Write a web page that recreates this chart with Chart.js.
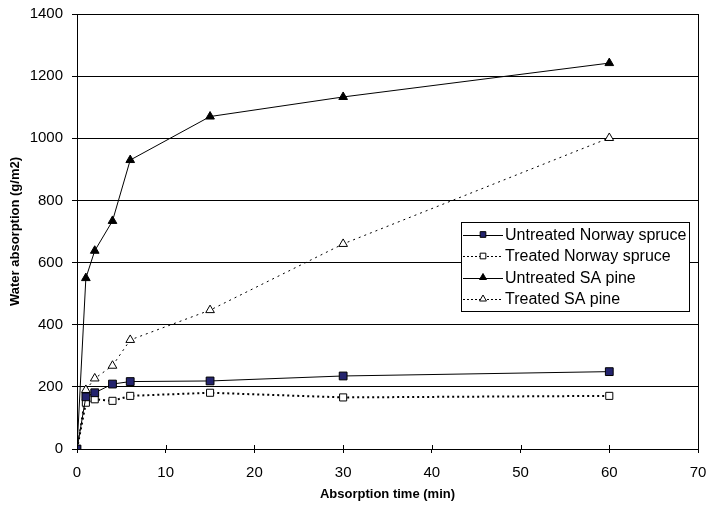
<!DOCTYPE html>
<html>
<head>
<meta charset="utf-8">
<script src="https://cdn.jsdelivr.net/npm/chart.js@4"></script>
<style>
  html, body { margin: 0; padding: 0; background: #fff; }
  #wrap { width: 708px; height: 508px; position: relative; }
</style>
</head>
<body>
<div id="wrap"><canvas id="chart"></canvas></div>
<script>
// absorption times (min)
const times = [0, 1, 2, 4, 6, 15, 30, 60];

// water absorption (g/m2)
const untreatedSpruce = [0, 168, 181, 209, 217, 219, 235, 249];
const treatedSpruce = [0, 149, 160, 155, 171, 181, 166, 171];
const untreatedPine = [0, 550, 638, 734, 930, 1070, 1133, 1242];
const treatedPine = [0, 190, 227, 268, 351, 447, 660, 1001];

const seriesNames = ['Untreated Norway spruce', 'Treated Norway spruce', 'Untreated SA pine', 'Treated SA pine'];

const FONT = '"Liberation Sans", Arial, sans-serif';

function pts(vals) {
    return times.map((t, i) => ({x: t, y: vals[i]}));
}

// marker drawing used by the boxed legend
function drawMarker(ctx, style, x, y, r, fill) {
    ctx.save();
    ctx.setLineDash([]);
    ctx.lineWidth = 1;
    ctx.strokeStyle = '#000';
    ctx.fillStyle = fill;
    ctx.beginPath();
    if (style === 'rect') {
        const s = Math.SQRT1_2 * r;
        ctx.rect(x - s, y - s, 2 * s, 2 * s);
    } else {
        ctx.moveTo(x, y - r);
        ctx.lineTo(x + r * 0.866, y + r / 2);
        ctx.lineTo(x - r * 0.866, y + r / 2);
        ctx.closePath();
    }
    ctx.fill();
    ctx.stroke();
    ctx.restore();
}

// legend sits inside the plot in a white box, like the original
const boxLegend = {
    id: 'boxLegend',
    afterDatasetsDraw(chart) {
        const {ctx, chartArea} = chart;
        const xs = chart.scales.x;
        ctx.save();
        ctx.strokeStyle = '#000';
        ctx.lineWidth = 1;
        ctx.beginPath();
        // right edge of plot
        ctx.moveTo(Math.round(chartArea.right) + 0.5, chartArea.top);
        ctx.lineTo(Math.round(chartArea.right) + 0.5, chartArea.bottom);
        // small inward tick marks on the x axis
        xs.ticks.forEach(t => {
            const px = Math.round(xs.getPixelForValue(t.value)) + 0.5;
            ctx.moveTo(px, chartArea.bottom);
            ctx.lineTo(px, chartArea.bottom - 4);
        });
        ctx.stroke();

        const x0 = Math.round(chartArea.right) - 237, y0 = Math.round(chartArea.top) + 208;
        const w = 228, h = 89;
        ctx.fillStyle = '#fff';
        ctx.fillRect(x0, y0, w, h);
        ctx.strokeRect(x0 + 0.5, y0 + 0.5, w, h);

        ctx.font = '16px ' + FONT;
        ctx.textBaseline = 'middle';
        chart.data.datasets.forEach((ds, i) => {
            const y = y0 + 12.5 + i * 21.5;
            ctx.save();
            ctx.strokeStyle = '#000';
            ctx.lineWidth = 1;
            ctx.setLineDash(ds.borderDash ? [2, 2] : []);
            ctx.beginPath();
            ctx.moveTo(x0 + 2, Math.round(y) + 0.5);
            ctx.lineTo(x0 + 42, Math.round(y) + 0.5);
            ctx.stroke();
            ctx.restore();
            drawMarker(ctx, ds.pointStyle, x0 + 22, y, 4, ds.pointBackgroundColor);
            ctx.fillStyle = '#000';
            ctx.fillText(ds.label, x0 + 44, y + 1);
        });
        ctx.restore();
    }
};

new Chart(document.getElementById('chart'), {
    type: 'scatter',
    data: {
        datasets: [
            {
                label: seriesNames[0],
                data: pts(untreatedSpruce),
                showLine: true,
                borderColor: '#000',
                borderWidth: 1,
                pointStyle: 'rect',
                pointRadius: 5.5,
                pointBackgroundColor: '#23236e',
                pointBorderColor: '#000',
                pointBorderWidth: 1,
            },
            {
                label: seriesNames[1],
                data: pts(treatedSpruce),
                showLine: true,
                borderColor: '#000',
                borderWidth: 2,
                borderDash: [2, 3],
                pointStyle: 'rect',
                pointRadius: 5,
                pointBackgroundColor: '#fff',
                pointBorderColor: '#000',
                pointBorderWidth: 1,
            },
            {
                label: seriesNames[2],
                data: pts(untreatedPine),
                showLine: true,
                borderColor: '#000',
                borderWidth: 1,
                pointStyle: 'triangle',
                pointRadius: 5,
                pointBackgroundColor: '#000',
                pointBorderColor: '#000',
                pointBorderWidth: 1,
            },
            {
                label: seriesNames[3],
                data: pts(treatedPine),
                showLine: true,
                borderColor: '#000',
                borderWidth: 1,
                borderDash: [2, 4],
                pointStyle: 'triangle',
                pointRadius: 5,
                pointBackgroundColor: '#fff',
                pointBorderColor: '#000',
                pointBorderWidth: 1,
            },
        ]
    },
    options: {
        responsive: true,
        maintainAspectRatio: false,
        animation: false,
        layout: {padding: {top: 14, right: 10, left: 0, bottom: 0}},
        plugins: {
            legend: {display: false},
            tooltip: {enabled: false},
        },
        scales: {
            x: {
                type: 'linear',
                min: 0,
                max: 70,
                afterFit: (s) => { s.height = 59; s.paddingLeft = 0; s.paddingRight = 0; },
                ticks: {stepSize: 10, color: '#000', font: {family: FONT, size: 15}, maxRotation: 0, padding: 11},
                grid: {drawOnChartArea: false, color: '#000', tickLength: 4},
                border: {color: '#000'},
                title: {display: true, text: 'Absorption time (min)', color: '#000',
                    font: {family: FONT, size: 13, weight: 'bold'}, padding: {top: 4, bottom: 6}},
            },
            y: {
                min: 0,
                max: 1400,
                afterFit: (s) => { s.width = 77; s.paddingTop = 0; s.paddingBottom = 0; },
                ticks: {stepSize: 200, color: '#000', font: {family: FONT, size: 15}, padding: 9,
                    format: {useGrouping: false}},
                grid: {color: '#000', tickLength: 5},
                border: {color: '#000'},
                title: {display: true, text: 'Water absorption (g/m2)', color: '#000',
                    font: {family: FONT, size: 13, weight: 'bold'}, padding: {top: 8, bottom: 4}},
            }
        }
    },
    plugins: [boxLegend]
});
</script>
</body>
</html>
